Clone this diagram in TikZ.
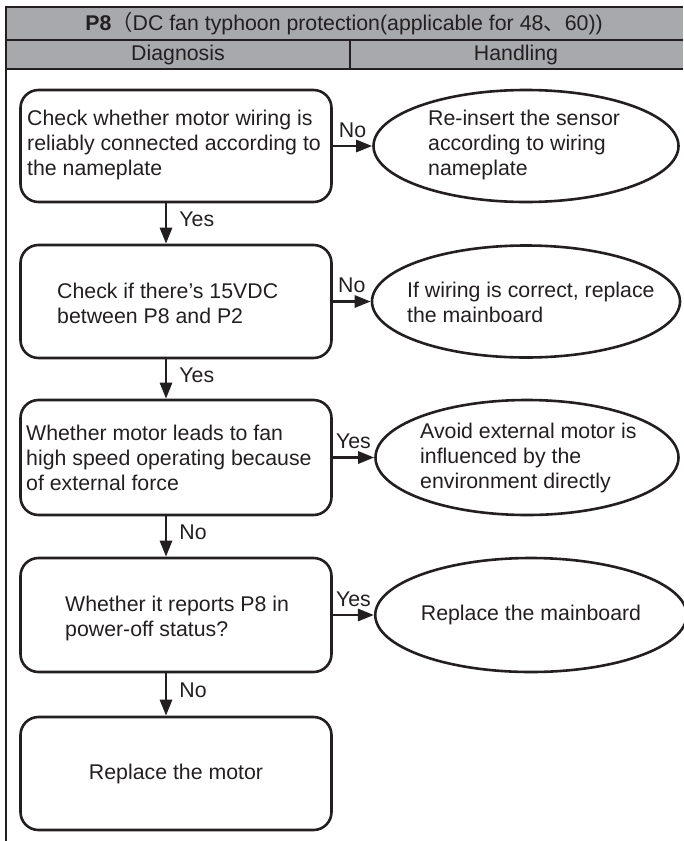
\documentclass[tikz,border=0pt]{standalone}
\usepackage{fontspec}
\setmainfont{Liberation Sans}
\newfontfamily\cjkfont{Noto Sans CJK SC}
\usetikzlibrary{shapes.geometric,arrows.meta}
\definecolor{headgray}{HTML}{A7A9AC}
\definecolor{ink}{HTML}{231F20}

\begin{document}
\begin{tikzpicture}[x=1pt,y=-1pt,
  every node/.style={font=\fontsize{21.3}{25}\selectfont, text=ink},
  decision/.style={draw=ink, line width=2.6pt, rounded corners=18pt, inner sep=0, minimum width=311pt},
  outcome/.style={draw=ink, line width=2.6pt, ellipse, inner sep=0},
  txt/.style={align=left, inner sep=0, anchor=west},
  flow/.style={draw=ink, line width=2.8pt, -{Triangle[length=16pt,width=12pt]}},
  tag/.style={inner sep=0},
  rule/.style={draw=ink, line width=2.4pt},
]
\useasboundingbox (0,0) rectangle (683,841);

% table header
\fill[headgray] (6,7) rectangle (683,69);
\draw[rule] (683,7) -- (6,7) -- (6,841);
\draw[rule] (6,40) -- (683,40);
\draw[rule] (6,69) -- (683,69);
\draw[rule] (350,40) -- (350,69);
\node[tag] (title) at (344,24) {\textbf{P8}{\cjkfont （}DC fan typhoon protection(applicable for 48{\cjkfont 、}60))};
\node[tag] (diag) at (178,55) {Diagnosis};
\node[tag] (hand) at (516,55) {Handling};

% diagnosis steps
\node[decision, minimum height=112pt] (b1) at (176,146) {};
\node[decision, minimum height=113pt] (b2) at (176,301.5) {};
\node[decision, minimum height=115pt] (b3) at (176,457.5) {};
\node[decision, minimum height=114pt] (b4) at (176,615) {};
\node[decision, minimum height=113pt] (b5) at (176,773.5) {Replace the motor};

\node[txt] (t1) at (27,145) {Check whether motor wiring is\\reliably connected according to\\the nameplate};
\node[txt] (t2) at (57,303) {Check if there’s 15VDC\\between P8 and P2};
\node[txt] (t3) at (26,458) {Whether motor leads to fan\\high speed operating because\\of external force};
\node[txt] (t4) at (65,618) {Whether it reports P8 in\\power-off status?};

% handling actions
\node[outcome, minimum width=305pt, minimum height=112pt] (e1) at (526,146) {};
\node[outcome, minimum width=308pt, minimum height=112pt] (e2) at (526,301.5) {};
\node[outcome, minimum width=303pt, minimum height=115pt] (e3) at (527,457.5) {};
\node[outcome, minimum width=302pt, minimum height=114pt] (e4) at (531,615) {Replace the mainboard};

\node[txt] (u1) at (428,145) {Re-insert the sensor\\according to wiring\\nameplate};
\node[txt] (u2) at (407,302) {If wiring is correct, replace\\the mainboard};
\node[txt] (u3) at (420,458) {Avoid external motor is\\influenced by the\\environment directly};

% branches to the handling column
\draw[flow] (b1.east) -- node[tag, above=7pt] {No} (e1.west);
\draw[flow] (b2.east) -- node[tag, above=7pt] {No} (e2.west);
\draw[flow] (b3.east) -- node[tag, above=7pt] {Yes} (e3.west);
\draw[flow] (b4.east) -- node[tag, above=7pt] {Yes} (e4.west);

% main sequence
\draw[flow] ([xshift=-10pt]b1.south) -- node[tag, right=12pt, yshift=4pt] {Yes} ([xshift=-10pt]b2.north);
\draw[flow] ([xshift=-10pt]b2.south) -- node[tag, right=12pt, yshift=4pt] {Yes} ([xshift=-10pt]b3.north);
\draw[flow] ([xshift=-10pt]b3.south) -- node[tag, right=12pt, yshift=4pt] {No} ([xshift=-10pt]b4.north);
\draw[flow] ([xshift=-10pt]b4.south) -- node[tag, right=12pt, yshift=4pt] {No} ([xshift=-10pt]b5.north);
\end{tikzpicture}
\end{document}
